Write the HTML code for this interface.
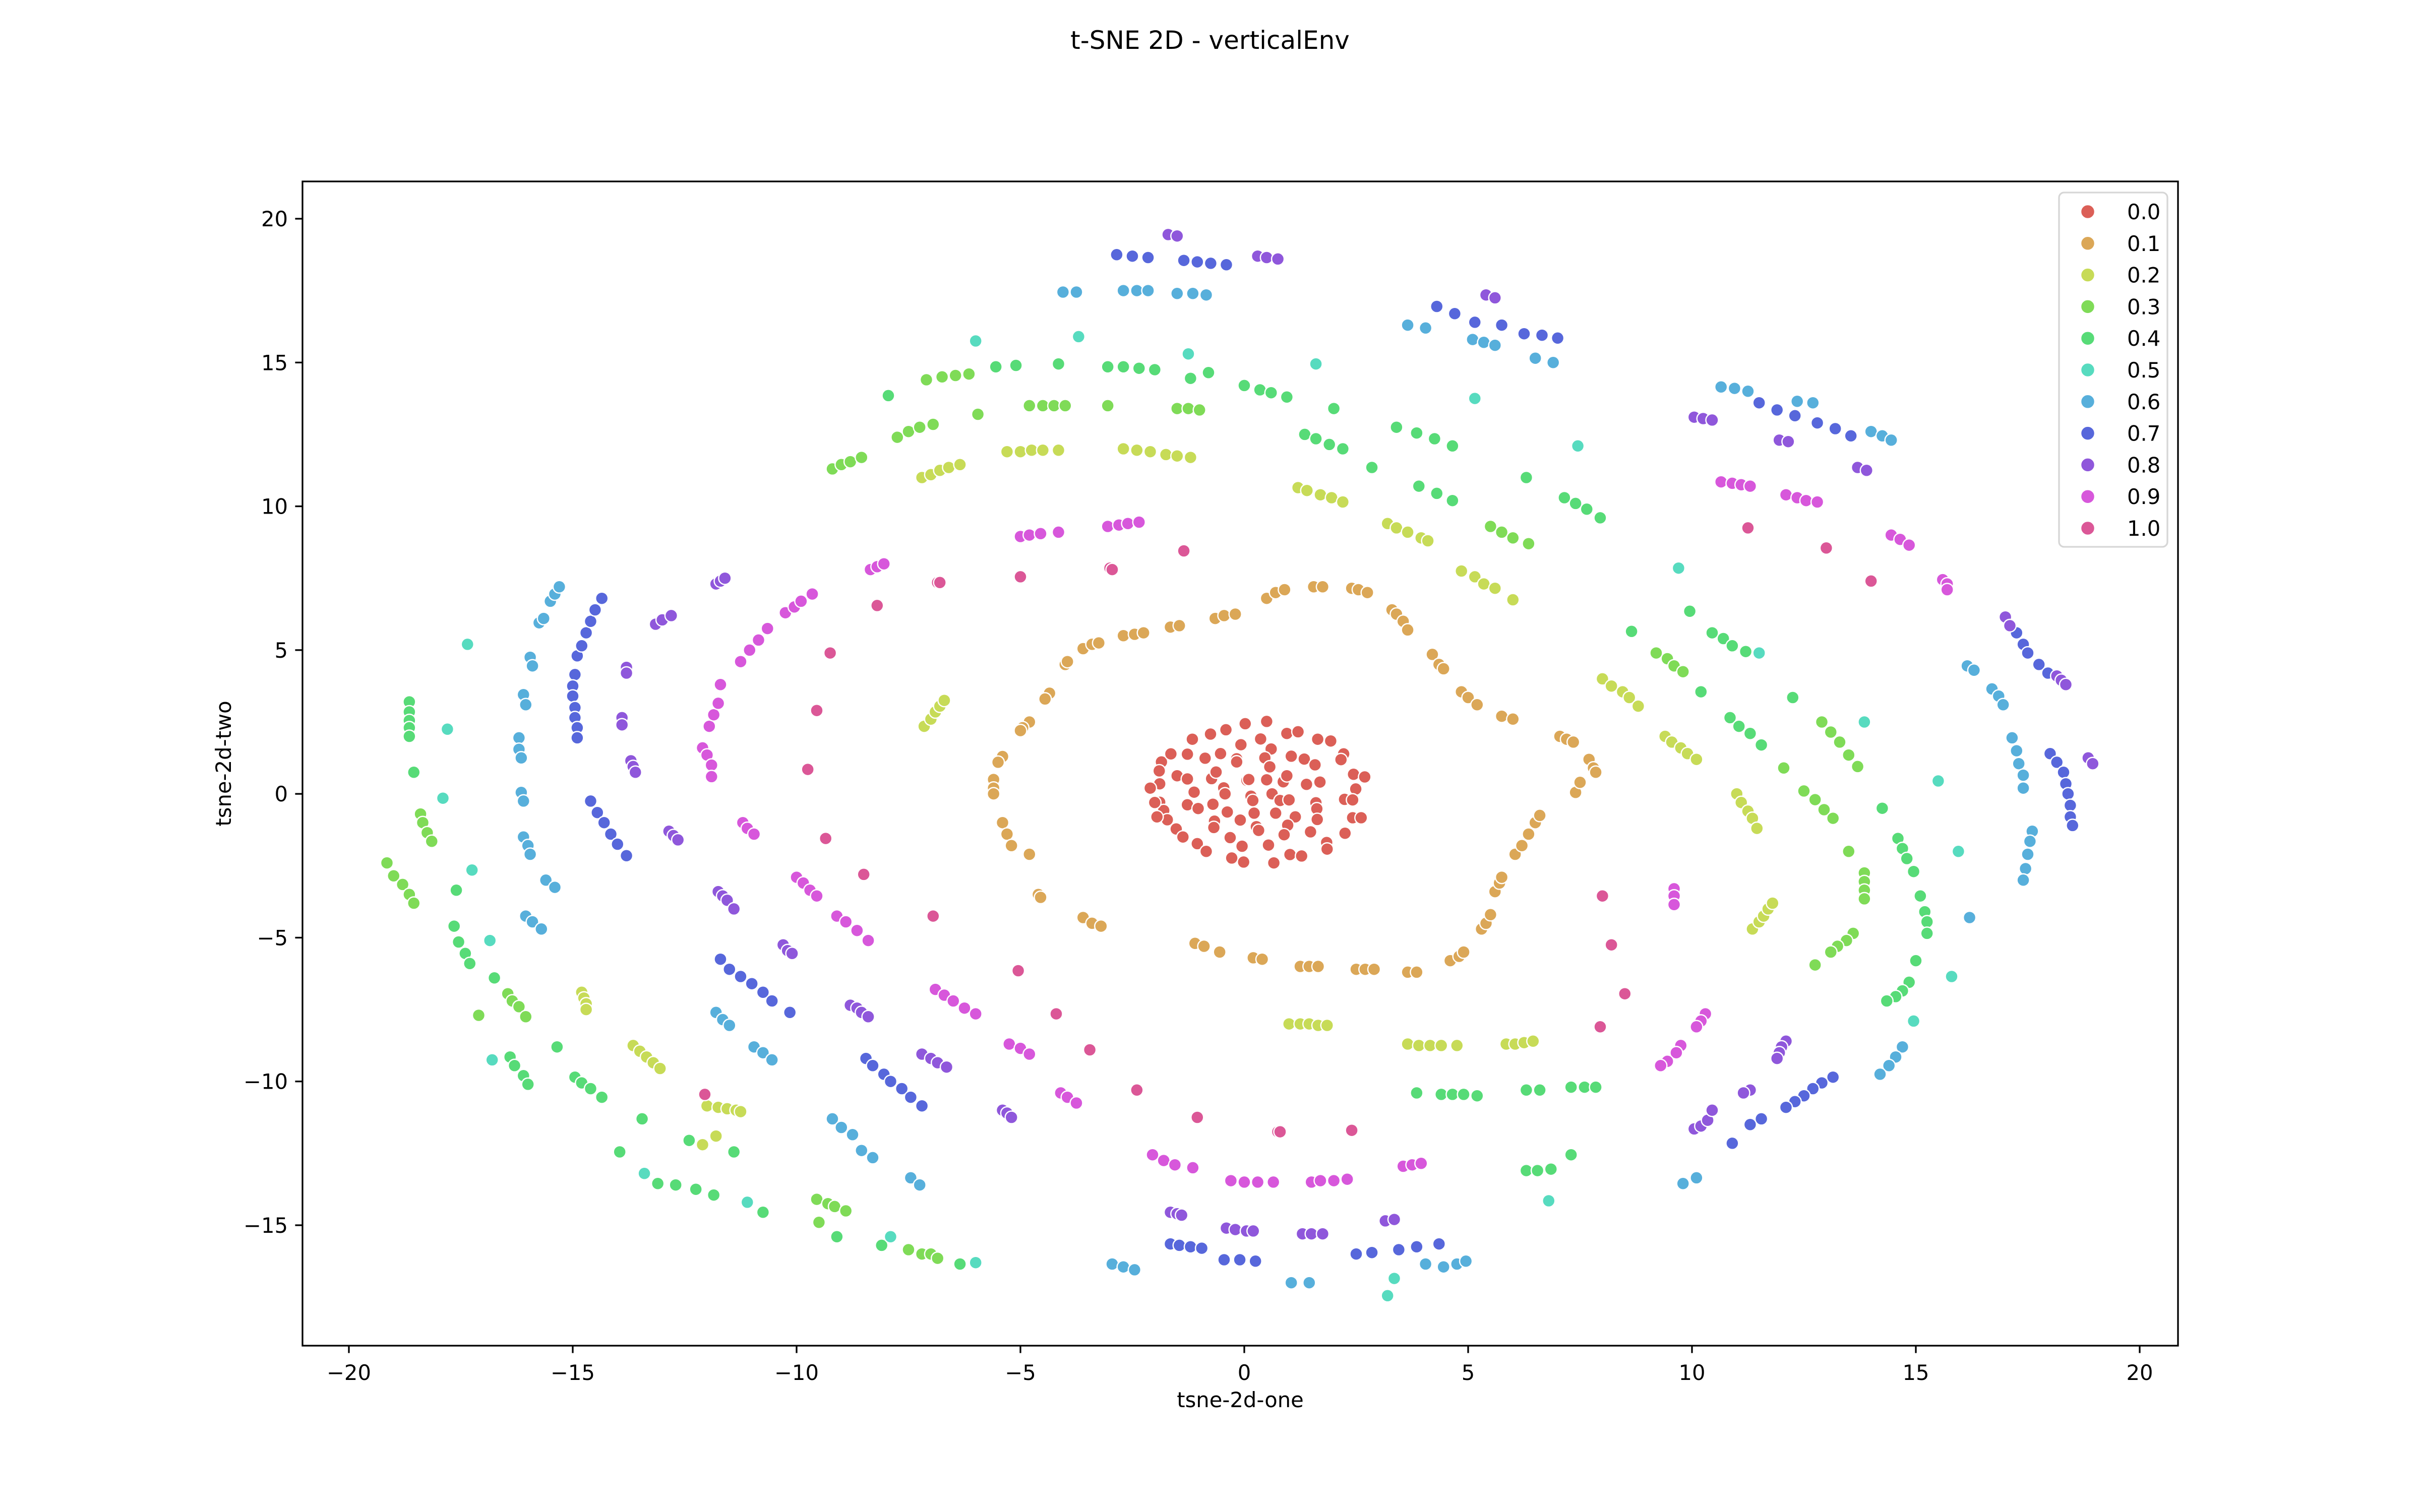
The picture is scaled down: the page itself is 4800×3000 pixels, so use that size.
<!DOCTYPE html>
<html><head><meta charset="utf-8"><style>html,body{margin:0;padding:0;background:#fff}svg{display:block}text{font-family:"DejaVu Sans","Liberation Sans",sans-serif;fill:#000}</style></head>
<body>
<svg id="chart" xmlns="http://www.w3.org/2000/svg" width="4800" height="3000" viewBox="0 0 4800 3000">
<rect x="0" y="0" width="4800" height="3000" fill="#fff"/>
<text x="2400" y="97" font-size="50" text-anchor="middle">t-SNE 2D - verticalEnv</text>
<g id="points"></g>
<g id="axes"></g>
<text x="2460" y="2792" font-size="41.7" text-anchor="middle">tsne-2d-one</text>
<text x="0" y="0" font-size="41.7" text-anchor="middle" transform="translate(458,1515) rotate(-90)">tsne-2d-two</text>
<g id="legend"></g>
</svg>
<script>
const labels = ["0.0","0.1","0.2","0.3","0.4","0.5","0.6","0.7","0.8","0.9","1.0"];
const colors = ["#db5f57","#dba757","#c7db57","#7fdb57","#57db77","#57dbbf","#57afdb","#5767db","#8f57db","#d757db","#db5797"];
const xTicks = [-20,-15,-10,-5,0,5,10,15,20];
const yTicks = [-15,-10,-5,0,5,10,15,20];
const c0 = [[-1.16,1.90],[-0.755,2.08],[-0.41,2.23],[0.02,2.44],[0.50,2.52],[0.95,2.10],[1.20,2.16],[1.64,1.90],[1.93,1.84],[-1.85,1.11],[-1.64,1.39],[-1.27,1.38],[-0.875,1.24],[-0.53,1.40],[-0.17,1.22],[-0.17,1.11],[-0.075,1.71],[0.365,1.91],[0.60,1.56],[0.46,1.25],[0.57,0.94],[1.05,1.31],[1.34,1.21],[1.58,1.01],[2.22,1.39],[2.16,1.19],[-1.89,0.35],[-1.50,0.63],[-1.27,0.52],[-0.73,0.53],[-0.63,0.76],[-0.46,0.21],[-0.43,0.0],[-1.12,0.06],[0.06,0.47],[0.10,0.50],[0.50,0.49],[0.87,0.42],[0.95,0.63],[1.39,0.33],[1.69,0.41],[2.44,0.68],[2.69,0.59],[2.49,0.17],[-1.89,-0.29],[-1.80,-0.58],[-1.72,-0.90],[-1.27,-0.38],[-1.03,-0.51],[-0.70,-0.36],[-0.38,-0.63],[0.15,-0.08],[0.19,-0.23],[0.62,0.0],[0.80,-0.23],[1.00,-0.21],[1.60,-0.31],[1.62,-0.52],[2.24,-0.19],[2.42,-0.21],[-1.52,-1.22],[-1.37,-1.50],[-1.05,-1.73],[-0.85,-2.0],[-0.665,-0.95],[-0.68,-1.17],[-0.315,-1.52],[-0.09,-0.91],[-0.05,-1.82],[0.22,-0.67],[0.27,-1.14],[0.32,-1.27],[0.70,-0.67],[1.14,-0.80],[0.97,-1.09],[0.89,-1.42],[1.63,-0.89],[1.48,-1.32],[2.25,-1.37],[2.42,-0.83],[2.61,-0.83],[1.84,-1.69],[1.85,-1.92],[-0.28,-2.23],[-0.015,-2.37],[0.54,-1.78],[0.66,-2.40],[1.02,-2.11],[1.28,-2.16],[-2.1,0.2],[-2.0,-0.3],[-1.9,0.8],[-1.95,-0.8]];
const c1 = [[-4.0,4.5],[-3.95,4.6],[-4.35,3.5],[-4.45,3.3],[-4.8,2.5],[-4.95,2.3],[-5.0,2.2],[-5.4,1.3],[-5.5,1.1],[-5.6,0.5],[-5.6,0.2],[-5.6,0.0],[-5.4,-1.0],[-5.3,-1.4],[-5.2,-1.8],[-4.8,-2.1],[-4.6,-3.5],[-4.55,-3.6],[-3.6,-4.3],[-3.4,-4.5],[-3.2,-4.6],[-1.1,-5.2],[-0.9,-5.3],[-0.55,-5.5],[0.2,-5.7],[0.4,-5.75],[1.25,-6.0],[1.45,-6.0],[1.65,-6.0],[2.5,-6.1],[2.7,-6.1],[2.9,-6.1],[3.65,-6.2],[3.85,-6.2],[4.6,-5.8],[4.8,-5.65],[4.9,-5.5],[5.3,-4.7],[5.4,-4.5],[5.5,-4.2],[5.6,-3.4],[5.7,-3.1],[5.75,-2.9],[6.05,-2.1],[6.2,-1.8],[6.35,-1.4],[6.5,-1.0],[6.6,-0.75],[7.4,0.05],[7.5,0.4],[7.7,1.2],[7.8,0.9],[7.85,0.75],[7.05,2.0],[7.2,1.9],[7.35,1.8],[5.75,2.7],[6.0,2.6],[4.85,3.55],[5.0,3.35],[5.2,3.1],[4.2,4.85],[4.35,4.5],[4.45,4.35],[3.3,6.4],[3.4,6.25],[3.55,6.0],[3.65,5.7],[2.4,7.15],[2.55,7.1],[2.75,7.0],[1.55,7.2],[1.75,7.2],[0.5,6.8],[0.7,7.0],[0.9,7.1],[-0.65,6.1],[-0.45,6.2],[-0.2,6.25],[-1.65,5.8],[-1.45,5.85],[-2.7,5.5],[-2.45,5.55],[-2.25,5.6],[-3.6,5.05],[-3.4,5.2],[-3.25,5.25]];
const c2 = [[-7.2,11.0],[-7.0,11.1],[-6.8,11.25],[-6.6,11.35],[-6.35,11.45],[-5.3,11.9],[-5.0,11.9],[-4.75,11.95],[-4.5,11.95],[-4.15,11.95],[-2.7,12.0],[-2.4,11.95],[-2.1,11.9],[-1.75,11.8],[-1.5,11.75],[-1.2,11.7],[1.2,10.65],[1.4,10.55],[1.7,10.4],[1.95,10.3],[2.2,10.15],[3.2,9.4],[3.4,9.25],[3.65,9.1],[3.95,8.9],[4.1,8.8],[4.85,7.75],[5.15,7.55],[5.35,7.3],[5.6,7.15],[6.0,6.75],[8.0,4.0],[8.2,3.75],[8.45,3.55],[8.6,3.35],[8.8,3.05],[9.4,2.0],[9.55,1.8],[9.75,1.6],[9.9,1.4],[10.1,1.2],[11.0,0.0],[11.1,-0.3],[11.25,-0.6],[11.35,-0.85],[11.45,-1.2],[11.35,-4.7],[11.5,-4.45],[11.6,-4.25],[11.7,-4.0],[11.8,-3.8],[5.85,-8.7],[6.05,-8.7],[6.25,-8.65],[6.45,-8.6],[3.65,-8.7],[3.9,-8.75],[4.15,-8.75],[4.4,-8.75],[4.75,-8.75],[1.0,-8.0],[1.25,-8.0],[1.45,-8.0],[1.65,-8.05],[1.85,-8.05],[-7.15,2.35],[-7.0,2.6],[-6.9,2.85],[-6.8,3.05],[-6.7,3.25],[-14.8,-6.9],[-14.75,-7.1],[-14.7,-7.3],[-14.7,-7.5],[-13.65,-8.75],[-13.5,-8.95],[-13.35,-9.15],[-13.2,-9.35],[-13.05,-9.55],[-12.0,-10.85],[-11.75,-10.9],[-11.55,-10.95],[-11.35,-11.0],[-11.25,-11.05],[-11.8,-11.9],[-12.1,-12.2]];
const c3 = [[-9.2,11.3],[-9.0,11.45],[-8.8,11.55],[-8.55,11.7],[-7.75,12.4],[-7.5,12.6],[-7.25,12.75],[-6.95,12.85],[-7.1,14.4],[-6.75,14.5],[-6.45,14.55],[-6.15,14.6],[-5.95,13.2],[-4.8,13.5],[-4.5,13.5],[-4.25,13.5],[-4.0,13.5],[-3.05,13.5],[-1.5,13.4],[-1.25,13.4],[-1.0,13.35],[5.5,9.3],[5.75,9.1],[6.0,8.9],[6.35,8.7],[9.2,4.9],[9.45,4.7],[9.6,4.45],[9.8,4.25],[12.05,0.9],[12.9,2.5],[13.1,2.15],[13.3,1.8],[13.5,1.35],[13.7,0.95],[12.5,0.1],[12.75,-0.2],[12.95,-0.55],[13.15,-0.85],[13.5,-2.0],[13.85,-2.75],[13.85,-3.05],[13.85,-3.35],[13.85,-3.65],[13.6,-4.85],[13.45,-5.1],[13.25,-5.3],[13.1,-5.5],[12.75,-5.95],[-18.4,-0.7],[-18.35,-1.0],[-18.25,-1.35],[-18.15,-1.65],[-19.15,-2.4],[-19.0,-2.85],[-18.8,-3.15],[-18.65,-3.5],[-18.55,-3.8],[-17.1,-7.7],[-16.45,-6.95],[-16.35,-7.2],[-16.2,-7.4],[-16.05,-7.75],[-9.55,-14.1],[-9.3,-14.25],[-9.15,-14.35],[-8.9,-14.5],[-9.5,-14.9],[-7.5,-15.85],[-7.2,-16.0],[-7.0,-16.0],[-6.85,-16.15]];
const c4 = [[-7.95,13.85],[-5.55,14.85],[-5.1,14.9],[-4.15,14.95],[-3.05,14.85],[-2.7,14.85],[-2.35,14.8],[-2.0,14.75],[-1.2,14.45],[-0.8,14.65],[0.0,14.2],[0.35,14.05],[0.6,13.95],[0.95,13.8],[2.0,13.4],[1.35,12.5],[1.6,12.35],[1.9,12.15],[2.2,12.0],[2.85,11.35],[3.4,12.75],[3.85,12.55],[4.25,12.35],[4.65,12.1],[3.9,10.7],[4.3,10.45],[4.65,10.2],[6.3,11.0],[7.15,10.3],[7.4,10.1],[7.65,9.9],[7.95,9.6],[8.65,5.65],[9.95,6.35],[10.45,5.6],[10.7,5.4],[10.9,5.15],[11.2,4.95],[10.2,3.55],[10.85,2.65],[11.05,2.35],[11.3,2.1],[11.55,1.7],[12.25,3.35],[14.25,-0.5],[14.6,-1.55],[14.7,-1.9],[14.8,-2.25],[14.95,-2.7],[15.1,-3.55],[15.2,-4.1],[15.25,-4.45],[15.25,-4.85],[15.0,-5.8],[14.85,-6.55],[14.7,-6.85],[14.55,-7.05],[14.35,-7.2],[7.3,-10.2],[7.6,-10.2],[7.85,-10.2],[6.3,-10.3],[6.6,-10.3],[4.4,-10.45],[4.65,-10.45],[4.9,-10.45],[5.2,-10.5],[3.85,-10.4],[6.3,-13.1],[6.55,-13.1],[6.85,-13.05],[7.3,-12.55],[-18.65,3.2],[-18.65,2.85],[-18.65,2.55],[-18.65,2.3],[-18.65,2.0],[-18.55,0.75],[-17.6,-3.35],[-17.65,-4.6],[-17.55,-5.15],[-17.4,-5.55],[-17.3,-5.9],[-16.75,-6.4],[-16.4,-9.15],[-16.3,-9.45],[-16.1,-9.8],[-16.0,-10.1],[-15.35,-8.8],[-14.95,-9.85],[-14.8,-10.05],[-14.6,-10.25],[-14.35,-10.55],[-13.45,-11.3],[-13.95,-12.45],[-12.4,-12.05],[-11.4,-12.45],[-13.1,-13.55],[-12.7,-13.6],[-12.25,-13.75],[-11.85,-13.95],[-10.75,-14.55],[-9.1,-15.4],[-8.1,-15.7],[-6.35,-16.35]];
const c5 = [[-6.0,15.75],[-3.7,15.9],[-1.25,15.3],[1.6,14.95],[5.15,13.75],[7.45,12.1],[9.7,7.85],[11.5,4.9],[13.85,2.5],[15.5,0.45],[15.95,-2.0],[14.95,-7.9],[15.8,-6.35],[6.8,-14.15],[3.2,-17.45],[3.35,-16.85],[-7.9,-15.4],[-6.0,-16.3],[-11.1,-14.2],[-13.4,-13.2],[-16.8,-9.25],[-16.85,-5.1],[-17.25,-2.65],[-17.9,-0.15],[-17.8,2.25],[-17.35,5.2]];
const c6 = [[-4.05,17.45],[-3.75,17.45],[-2.7,17.5],[-2.4,17.5],[-2.15,17.5],[-1.5,17.4],[-1.15,17.4],[-0.85,17.35],[3.65,16.3],[4.05,16.2],[5.1,15.8],[5.35,15.7],[5.6,15.6],[6.5,15.15],[6.9,15.0],[10.65,14.15],[10.95,14.1],[11.25,14.0],[12.35,13.65],[12.7,13.6],[14.0,12.6],[14.25,12.45],[14.45,12.3],[16.15,4.45],[16.3,4.3],[16.7,3.65],[16.85,3.4],[16.95,3.1],[17.15,1.95],[17.25,1.5],[17.3,1.05],[17.4,0.65],[17.4,0.2],[17.6,-1.3],[17.55,-1.65],[17.5,-2.1],[17.45,-2.6],[17.4,-3.0],[16.2,-4.3],[14.7,-8.8],[14.55,-9.15],[14.4,-9.45],[14.2,-9.75],[9.8,-13.55],[10.1,-13.35],[-2.95,-16.35],[-2.7,-16.45],[-2.45,-16.55],[1.05,-17.0],[1.45,-17.0],[4.05,-16.35],[4.45,-16.45],[4.75,-16.35],[4.95,-16.25],[-9.2,-11.3],[-9.0,-11.6],[-8.75,-11.85],[-8.55,-12.4],[-8.3,-12.65],[-7.45,-13.35],[-7.25,-13.6],[-11.8,-7.6],[-11.65,-7.85],[-11.5,-8.05],[-10.95,-8.8],[-10.75,-9.0],[-10.55,-9.25],[-16.05,-4.25],[-15.9,-4.45],[-15.7,-4.7],[-15.6,-3.0],[-15.4,-3.25],[-16.1,-1.5],[-16.0,-1.8],[-15.95,-2.1],[-16.15,0.05],[-16.1,-0.25],[-16.2,1.95],[-16.2,1.55],[-16.15,1.25],[-16.1,3.45],[-16.05,3.1],[-15.95,4.75],[-15.9,4.45],[-15.75,5.95],[-15.65,6.1],[-15.5,6.7],[-15.4,6.95],[-15.3,7.2]];
const c7 = [[-2.85,18.75],[-2.5,18.7],[-2.15,18.65],[-1.35,18.55],[-1.05,18.5],[-0.75,18.45],[-0.4,18.4],[4.3,16.95],[4.7,16.7],[5.15,16.4],[5.75,16.3],[6.25,16.0],[6.65,15.95],[7.0,15.85],[11.5,13.6],[11.9,13.35],[12.3,13.15],[12.8,12.9],[13.2,12.7],[13.55,12.45],[17.25,5.6],[17.4,5.2],[17.5,4.9],[17.75,4.5],[17.95,4.2],[18.0,1.4],[18.15,1.1],[18.3,0.75],[18.35,0.35],[18.4,0.0],[18.45,-0.4],[18.45,-0.8],[18.5,-1.1],[13.15,-9.85],[12.9,-10.05],[12.7,-10.25],[12.5,-10.5],[12.3,-10.7],[12.1,-10.9],[11.55,-11.3],[11.3,-11.5],[10.9,-12.15],[3.45,-15.85],[3.85,-15.75],[4.35,-15.65],[2.85,-15.95],[2.5,-16.0],[-1.65,-15.65],[-1.45,-15.7],[-1.2,-15.75],[-0.95,-15.8],[-0.45,-16.2],[-0.1,-16.2],[0.25,-16.25],[-8.45,-9.2],[-8.3,-9.45],[-8.05,-9.75],[-7.9,-10.0],[-7.65,-10.25],[-7.45,-10.55],[-7.2,-10.85],[-11.7,-5.75],[-11.5,-6.1],[-11.25,-6.35],[-11.0,-6.6],[-10.75,-6.9],[-10.55,-7.2],[-10.15,-7.6],[-14.6,-0.25],[-14.45,-0.65],[-14.3,-1.0],[-14.15,-1.4],[-14.0,-1.75],[-13.8,-2.15],[-14.95,4.15],[-15.0,3.75],[-15.0,3.4],[-14.95,3.0],[-14.95,2.65],[-14.9,2.3],[-14.9,1.95],[-14.9,4.8],[-14.8,5.15],[-14.7,5.6],[-14.6,6.0],[-14.5,6.4],[-14.35,6.8]];
const c8 = [[-1.7,19.45],[-1.5,19.4],[0.3,18.7],[0.5,18.65],[0.75,18.6],[5.4,17.35],[5.6,17.25],[10.05,13.1],[10.25,13.05],[10.45,13.0],[11.95,12.3],[12.15,12.25],[13.7,11.35],[13.9,11.25],[17.0,6.15],[17.1,5.85],[18.15,4.1],[18.25,3.95],[18.35,3.8],[18.85,1.25],[18.95,1.05],[12.1,-8.6],[12.0,-8.8],[11.95,-9.0],[11.9,-9.2],[10.05,-11.65],[10.2,-11.55],[10.35,-11.35],[10.45,-11.0],[11.3,-10.3],[11.15,-10.4],[3.15,-14.85],[3.35,-14.8],[1.3,-15.3],[1.5,-15.3],[1.75,-15.3],[-0.4,-15.1],[-0.2,-15.15],[0.05,-15.2],[0.2,-15.2],[-1.65,-14.55],[-1.5,-14.6],[-1.4,-14.65],[-5.4,-11.0],[-5.3,-11.1],[-5.2,-11.25],[-7.2,-9.05],[-7.0,-9.2],[-6.85,-9.35],[-6.65,-9.5],[-8.8,-7.35],[-8.65,-7.45],[-8.55,-7.6],[-8.4,-7.75],[-10.3,-5.25],[-10.2,-5.45],[-10.1,-5.55],[-11.75,-3.4],[-11.65,-3.55],[-11.55,-3.7],[-11.4,-4.0],[-12.85,-1.3],[-12.75,-1.45],[-12.65,-1.6],[-13.7,1.15],[-13.65,0.95],[-13.6,0.75],[-13.9,2.65],[-13.9,2.4],[-13.8,4.4],[-13.8,4.2],[-13.15,5.9],[-13.0,6.05],[-12.8,6.2],[-11.8,7.3],[-11.7,7.4],[-11.6,7.5]];
const c9 = [[-5.0,8.95],[-4.8,9.0],[-4.55,9.05],[-4.15,9.1],[-3.05,9.3],[-2.8,9.35],[-2.6,9.4],[-2.35,9.45],[10.65,10.85],[10.9,10.8],[11.1,10.75],[11.3,10.7],[12.1,10.4],[12.35,10.3],[12.55,10.2],[12.8,10.15],[14.45,9.0],[14.65,8.85],[14.85,8.65],[15.6,7.45],[15.7,7.3],[15.7,7.1],[9.6,-3.3],[9.6,-3.55],[9.6,-3.85],[10.3,-7.65],[10.2,-7.9],[10.1,-8.1],[9.75,-8.75],[9.65,-9.0],[9.45,-9.3],[9.3,-9.45],[3.55,-12.95],[3.75,-12.9],[3.95,-12.85],[1.5,-13.5],[1.7,-13.45],[2.0,-13.45],[2.3,-13.4],[-0.3,-13.45],[0.0,-13.5],[0.3,-13.5],[0.65,-13.5],[-2.05,-12.55],[-1.8,-12.75],[-1.55,-12.9],[-1.15,-13.0],[-4.1,-10.4],[-3.95,-10.55],[-3.75,-10.75],[-5.25,-8.7],[-5.0,-8.85],[-4.8,-9.05],[-6.9,-6.8],[-6.7,-7.0],[-6.5,-7.2],[-6.25,-7.45],[-6.0,-7.65],[-9.1,-4.25],[-8.9,-4.45],[-8.65,-4.75],[-8.4,-5.1],[-10.0,-2.9],[-9.85,-3.1],[-9.7,-3.35],[-9.55,-3.55],[-11.2,-1.0],[-11.1,-1.2],[-10.95,-1.4],[-12.1,1.6],[-12.0,1.35],[-11.9,1.0],[-11.9,0.6],[-11.95,2.35],[-11.85,2.75],[-11.75,3.15],[-11.7,3.8],[-11.25,4.6],[-11.05,5.0],[-10.85,5.35],[-10.65,5.75],[-10.25,6.3],[-10.05,6.5],[-9.9,6.7],[-9.65,6.95],[-8.35,7.8],[-8.2,7.9],[-8.05,8.0]];
const c10 = [[-3.0,7.85],[-2.95,7.8],[-1.35,8.45],[-5.0,7.55],[-6.85,7.35],[-6.8,7.35],[-8.2,6.55],[-9.25,4.9],[-9.55,2.9],[-9.75,0.85],[-9.35,-1.55],[-8.5,-2.8],[-6.95,-4.25],[-5.05,-6.15],[-4.2,-7.65],[-3.45,-8.9],[-2.4,-10.3],[-1.05,-11.25],[0.75,-11.75],[0.8,-11.75],[2.4,-11.7],[8.0,-3.55],[8.2,-5.25],[8.5,-6.95],[7.95,-8.1],[11.25,9.25],[13.0,8.55],[14.0,7.4],[-12.05,-10.45]];
const seriesList = [c0,c1,c2,c3,c4,c5,c6,c7,c8,c9,c10];

const X0=-20, X1=20, PX0=692, PX1=4244;
const Y0=-15, Y1=20, PY0=2431, PY1=434;
function sx(v){return PX0+(v-X0)*(PX1-PX0)/(X1-X0);}
function sy(v){return PY0+(v-Y0)*(PY1-PY0)/(Y1-Y0);}
const NS="http://www.w3.org/2000/svg";
function mk(tag,attrs,parent){const e=document.createElementNS(NS,tag);for(const k in attrs)e.setAttribute(k,attrs[k]);parent.appendChild(e);return e;}

const gp=document.getElementById('points');
seriesList.forEach((ser,ci)=>{
  const g=mk('g',{},gp);
  
  
  ser.forEach(p=>{
    const c=mk('circle',{cx:sx(p[0]).toFixed(1),cy:sy(p[1]).toFixed(1),r:12.5,fill:colors[ci],stroke:'#fff','stroke-width':2.5},g);
    
    
  });
});

const ga=document.getElementById('axes');
xTicks.forEach(t=>{
  const x=sx(t);
  const l=mk('line',{x1:x,y1:2670,x2:x,y2:2684.6,stroke:'#000','stroke-width':3.3},ga);
  
  
  const tx=mk('text',{x:x,y:2738,'font-size':41.7,'text-anchor':'middle'},ga);
  
  
  tx.textContent=String(t).replace('-','\u2212');
});
yTicks.forEach(t=>{
  const y=sy(t);
  const l=mk('line',{x1:585.4,y1:y,x2:600,y2:y,stroke:'#000','stroke-width':3.3},ga);
  
  
  const tx=mk('text',{x:571,y:y+15,'font-size':41.7,'text-anchor':'end'},ga);
  
  
  tx.textContent=String(t).replace('-','\u2212');
});
const fr=mk('rect',{x:600,y:360,width:3720,height:2310,fill:'none',stroke:'#000','stroke-width':3.3},ga);



const gl=document.getElementById('legend');
const lb=mk('rect',{x:4084,y:382,width:215,height:703,rx:10,fill:'#fff','fill-opacity':0.8,stroke:'#d6d6d6','stroke-width':3.3},gl);


labels.forEach((lab,i)=>{
  const y=420+i*62.8;
  const g=mk('g',{},gl);
  
  
  mk('circle',{cx:4141,cy:y,r:14,fill:colors[i],stroke:'#fff','stroke-width':2.5},g);
  const t=mk('text',{x:4219,y:y+15,'font-size':41.7},g);
  t.textContent=lab;
});
</script>
</body></html>
